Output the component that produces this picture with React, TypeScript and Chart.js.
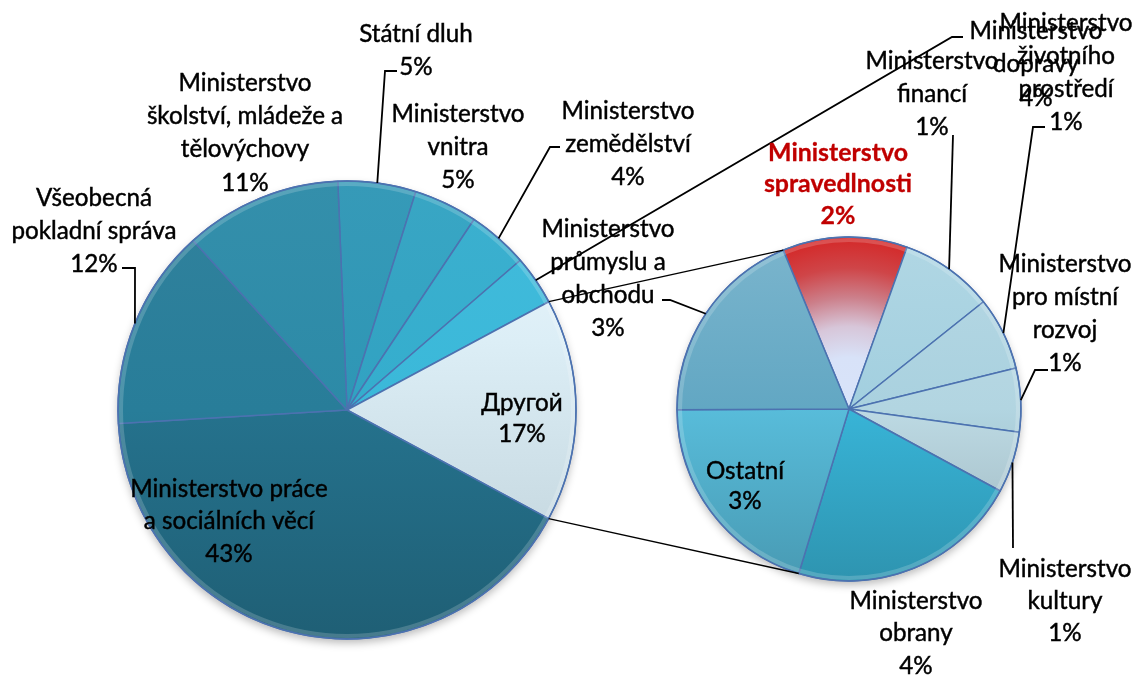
import React, { useEffect, useRef } from "react";
import { Chart, registerables } from "chart.js";

Chart.register(...registerables);

const W = 1138;
const H = 675;

// ---------- DATA ----------
// Main pie (share of total, %), clockwise from 12 o'clock
const mainNameLines: string[][] = [
  ["Státní dluh"],
  ["Ministerstvo", "vnitra"],
  ["Ministerstvo", "zemědělství"],
  ["Ministerstvo", "dopravy"],
  ["Другой"],
  ["Ministerstvo práce", "a sociálních věcí"],
  ["Všeobecná", "pokladní správa"],
  ["Ministerstvo", "školství, mládeže a", "tělovýchovy"],
];
const mainValues = [5.5, 4.5, 4.3, 3.5, 15.7, 41.2, 14.2, 11.1];
const mainPctLabels = ["5%", "5%", "4%", "4%", "17%", "43%", "12%", "11%"];

// Secondary pie (breakdown of "Другой"), clockwise
const secNameLines: string[][] = [
  ["Ministerstvo", "spravedlnosti"],
  ["Ministerstvo", "financí"],
  ["Ministerstvo", "životního", "prostředí"],
  ["Ministerstvo", "pro místní", "rozvoj"],
  ["Ministerstvo", "kultury"],
  ["Ministerstvo", "obrany"],
  ["Ostatní"],
  ["Ministerstvo", "průmyslu a", "obchodu"],
];
const secValues = [1.84, 1.38, 1.08, 0.94, 0.9, 3.42, 3.17, 2.95];
const secPctLabels = ["2%", "1%", "1%", "1%", "1%", "4%", "3%", "3%"];

const mainCategories = mainNameLines.map((l) => l.join(" "));
const secCategories = secNameLines.map((l) => l.join(" "));

// ---------- STYLE / LAYOUT ----------
const MAIN_CENTER = { x: 347, y: 410 };
const MAIN_R = 229;
const MAIN_ROTATION = -2.3;
const SEC_CENTER = { x: 849, y: 409 };
const SEC_R = 172;
const SEC_ROTATION = -22.5;

const mainColors = ["#2E96B5", "#31A2C2", "#34ADCD", "#3AB8D9", "#D6E8F0", "#25728D", "#287D99", "#2C8AA7"];
const secColors = ["#D42A2A", "#A2CFDF", "#A9D1DF", "#B2D5E1", "#BDDAE4", "#38B4D7", "#58BCDA", "#62A7C3"];
const BORDER = "#4C72B0";

type LabelPos = { x: number; y: number; lh: number; leader?: number[][]; bold?: boolean; color?: string };

const mainLabelPos: LabelPos[] = [
  { x: 416, y: 33, lh: 33, leader: [[397, 71], [385, 71]] },
  { x: 458, y: 113, lh: 33 },
  { x: 628, y: 110, lh: 33, leader: [[560, 147], [550, 147]] },
  { x: 1036, y: 30, lh: 33.5, leader: [[963, 37], [952, 37]] },
  { x: 522, y: 402, lh: 31 },
  { x: 229, y: 488, lh: 32.5 },
  { x: 94, y: 197, lh: 33, leader: [[122, 268], [135, 268]] },
  { x: 245, y: 82, lh: 33.3 },
];

const secLabelPos: LabelPos[] = [
  { x: 838, y: 152, lh: 31.5, bold: true, color: "#C00000" },
  { x: 932, y: 60, lh: 33, leader: [[953, 135]] },
  { x: 1066, y: 22, lh: 33, leader: [[1045, 127], [1033, 127]] },
  { x: 1065, y: 263, lh: 33, leader: [[1048, 370], [1035, 370]] },
  { x: 1065, y: 568, lh: 32, leader: [[1013, 548]] },
  { x: 916, y: 600, lh: 32.5 },
  { x: 745, y: 470, lh: 30 },
  { x: 608, y: 228, lh: 33, leader: [[662, 300], [670, 300]] },
];

const FONT = "Lato, 'Open Sans', sans-serif";

function shade(hex: string, amt: number): string {
  const n = parseInt(hex.slice(1), 16);
  let r = (n >> 16) & 255;
  let g = (n >> 8) & 255;
  let b = n & 255;
  const t = amt < 0 ? 0 : 255;
  const p = Math.abs(amt);
  r = Math.round(r + (t - r) * p);
  g = Math.round(g + (t - g) * p);
  b = Math.round(b + (t - b) * p);
  return `rgb(${r},${g},${b})`;
}

function centerOf(chart: any) {
  const a = chart.chartArea;
  return { cx: (a.left + a.right) / 2, cy: (a.top + a.bottom) / 2 };
}

function mainBg(c: any) {
  const i = c.dataIndex;
  const base = mainColors[i ?? 0];
  if (i === undefined || !c.chart.chartArea) return base;
  const { cy } = centerOf(c.chart);
  const g = c.chart.ctx.createLinearGradient(0, cy - MAIN_R, 0, cy + MAIN_R);
  if (i === 4) {
    g.addColorStop(0, "#ECF8FD");
    g.addColorStop(0.35, "#DCEEF6");
    g.addColorStop(0.75, "#C8DAE2");
    g.addColorStop(1, "#B6C8D1");
  } else {
    g.addColorStop(0, shade(base, 0.04));
    g.addColorStop(0.5, base);
    g.addColorStop(1, shade(base, -0.17));
  }
  return g;
}

function secBg(c: any) {
  const i = c.dataIndex;
  const base = secColors[i ?? 0];
  if (i === undefined || !c.chart.chartArea) return base;
  const { cx, cy } = centerOf(c.chart);
  const ctx = c.chart.ctx;
  if (i === 0) {
    const g = ctx.createRadialGradient(cx, cy, 0, cx, cy, SEC_R);
    g.addColorStop(0, "#D8E4FA");
    g.addColorStop(0.3, "#D8E2F8");
    g.addColorStop(0.48, "#D7C6D9");
    g.addColorStop(0.65, "#CC7F8A");
    g.addColorStop(0.82, "#CF4548");
    g.addColorStop(1, "#D42828");
    return g;
  }
  const g = ctx.createLinearGradient(0, cy - SEC_R, 0, cy + SEC_R);
  g.addColorStop(0, shade(base, 0.16));
  g.addColorStop(0.5, base);
  g.addColorStop(1, shade(base, -0.18));
  return g;
}

function shadowPlugin(r: number) {
  return {
    id: "pieShadow" + r,
    beforeDatasetsDraw(chart: any) {
      const { cx, cy } = centerOf(chart);
      const ctx = chart.ctx;
      ctx.save();
      ctx.shadowColor = "rgba(0,0,0,0.28)";
      ctx.shadowBlur = 9;
      ctx.shadowOffsetY = 4;
      ctx.beginPath();
      ctx.arc(cx, cy, r, 0, Math.PI * 2);
      ctx.fillStyle = "#9FB7C4";
      ctx.fill();
      ctx.restore();
    },
    afterDatasetsDraw(chart: any) {
      // soft bevel rim highlight
      const { cx, cy } = centerOf(chart);
      const ctx = chart.ctx;
      ctx.save();
      ctx.beginPath();
      ctx.arc(cx, cy, r - 3, 0, Math.PI * 2);
      ctx.strokeStyle = "rgba(255,255,255,0.18)";
      ctx.lineWidth = 4;
      ctx.stroke();
      ctx.beginPath();
      ctx.arc(cx, cy, r, 0, Math.PI * 2);
      ctx.strokeStyle = BORDER;
      ctx.lineWidth = 1.4;
      ctx.stroke();
      ctx.restore();
    },
  };
}

function arcPoint(el: any, angle: number) {
  return { x: el.x + el.outerRadius * Math.cos(angle), y: el.y + el.outerRadius * Math.sin(angle) };
}

function drawLabels(ctx: CanvasRenderingContext2D, meta: any, names: string[][], pcts: string[], pos: LabelPos[], fsN: number, fsB: number) {
  // leader lines
  ctx.save();
  ctx.strokeStyle = "#000";
  ctx.lineWidth = 1.8;
  ctx.lineJoin = "miter";
  pos.forEach((p, i) => {
    if (!p.leader) return;
    const el = meta.data[i];
    const mid = (el.startAngle + el.endAngle) / 2;
    const end = arcPoint(el, mid);
    ctx.beginPath();
    ctx.moveTo(p.leader[0][0], p.leader[0][1]);
    for (let k = 1; k < p.leader.length; k++) ctx.lineTo(p.leader[k][0], p.leader[k][1]);
    ctx.lineTo(end.x, end.y);
    ctx.stroke();
  });
  ctx.restore();
  // text
  ctx.save();
  ctx.textAlign = "center";
  ctx.textBaseline = "alphabetic";
  pos.forEach((p, i) => {
    const lines = [...names[i], pcts[i]];
    const fs = p.bold ? fsB : fsN;
    ctx.font = `${p.bold ? "700" : "400"} ${fs}px ${FONT}`;
    ctx.fillStyle = p.color || "#000";
    ctx.strokeStyle = p.color || "#000";
    ctx.lineWidth = p.bold ? 0.3 : 0.45;
    lines.forEach((t, k) => {
      const y = p.y + k * p.lh + fs * 0.36;
      ctx.fillText(t, p.x, y);
      ctx.strokeText(t, p.x, y);
    });
  });
  ctx.restore();
}

export default function App() {
  const mainRef = useRef<HTMLCanvasElement>(null);
  const secRef = useRef<HTMLCanvasElement>(null);

  useEffect(() => {
    const main = new Chart(mainRef.current as HTMLCanvasElement, {
      type: "pie",
      data: {
        labels: mainCategories,
        datasets: [
          {
            data: mainValues,
            backgroundColor: mainBg as any,
            borderColor: BORDER,
            borderWidth: 1.5,
          },
        ],
      },
      options: {
        responsive: false,
        animation: false,
        devicePixelRatio: 1,
        events: [],
        rotation: MAIN_ROTATION,
        radius: MAIN_R,
        layout: {
          padding: { left: 0, right: W - 2 * MAIN_CENTER.x, top: 2 * MAIN_CENTER.y - H, bottom: 0 },
        },
        plugins: { legend: { display: false }, tooltip: { enabled: false } },
      } as any,
      plugins: [shadowPlugin(MAIN_R)],
    });

    const overlay = {
      id: "overlayLabels",
      afterDraw(chart: any) {
        const ctx: CanvasRenderingContext2D = chart.ctx;
        const mMeta = main.getDatasetMeta(0) as any;
        const sMeta = chart.getDatasetMeta(0);
        // fit font size so "Ministerstvo" matches reference width
        ctx.save();
        ctx.font = `400 100px ${FONT}`;
        const wN = ctx.measureText("Ministerstvo").width;
        ctx.font = `700 100px ${FONT}`;
        const wB = ctx.measureText("Ministerstvo").width;
        ctx.restore();
        const fsN = Math.max(16, Math.min(28, (100 * 133) / wN));
        const fsB = Math.max(16, Math.min(28, (100 * 140) / wB));

        // pie-of-pie connector lines
        const other = mMeta.data[4];
        const first = sMeta.data[0];
        const def = sMeta.data[5];
        const a1 = arcPoint(other, other.startAngle);
        const a2 = arcPoint(other, other.endAngle);
        const b1 = arcPoint(first, first.startAngle);
        const b2 = arcPoint(def, def.endAngle);
        ctx.save();
        ctx.strokeStyle = "#000";
        ctx.lineWidth = 1.3;
        ctx.beginPath();
        ctx.moveTo(a1.x, a1.y);
        ctx.lineTo(b1.x, b1.y);
        ctx.moveTo(a2.x, a2.y);
        ctx.lineTo(b2.x, b2.y);
        ctx.stroke();
        ctx.restore();

        drawLabels(ctx, mMeta, mainNameLines, mainPctLabels, mainLabelPos, fsN, fsB);
        drawLabels(ctx, sMeta, secNameLines, secPctLabels, secLabelPos, fsN, fsB);
      },
    };

    const sec = new Chart(secRef.current as HTMLCanvasElement, {
      type: "pie",
      data: {
        labels: secCategories,
        datasets: [
          {
            data: secValues,
            backgroundColor: secBg as any,
            borderColor: BORDER,
            borderWidth: 1.5,
          },
        ],
      },
      options: {
        responsive: false,
        animation: false,
        devicePixelRatio: 1,
        events: [],
        rotation: SEC_ROTATION,
        radius: SEC_R,
        layout: {
          padding: { left: 2 * SEC_CENTER.x - W, right: 0, top: 2 * SEC_CENTER.y - H, bottom: 0 },
        },
        plugins: { legend: { display: false }, tooltip: { enabled: false } },
      } as any,
      plugins: [shadowPlugin(SEC_R), overlay],
    });

    return () => {
      sec.destroy();
      main.destroy();
    };
  }, []);

  return (
    <div style={{ position: "fixed", left: 0, top: 0, width: W, height: H, background: "#fff" }}>
      <canvas ref={mainRef} width={W} height={H} style={{ position: "absolute", left: 0, top: 0 }} />
      <canvas ref={secRef} width={W} height={H} style={{ position: "absolute", left: 0, top: 0 }} />
    </div>
  );
}
